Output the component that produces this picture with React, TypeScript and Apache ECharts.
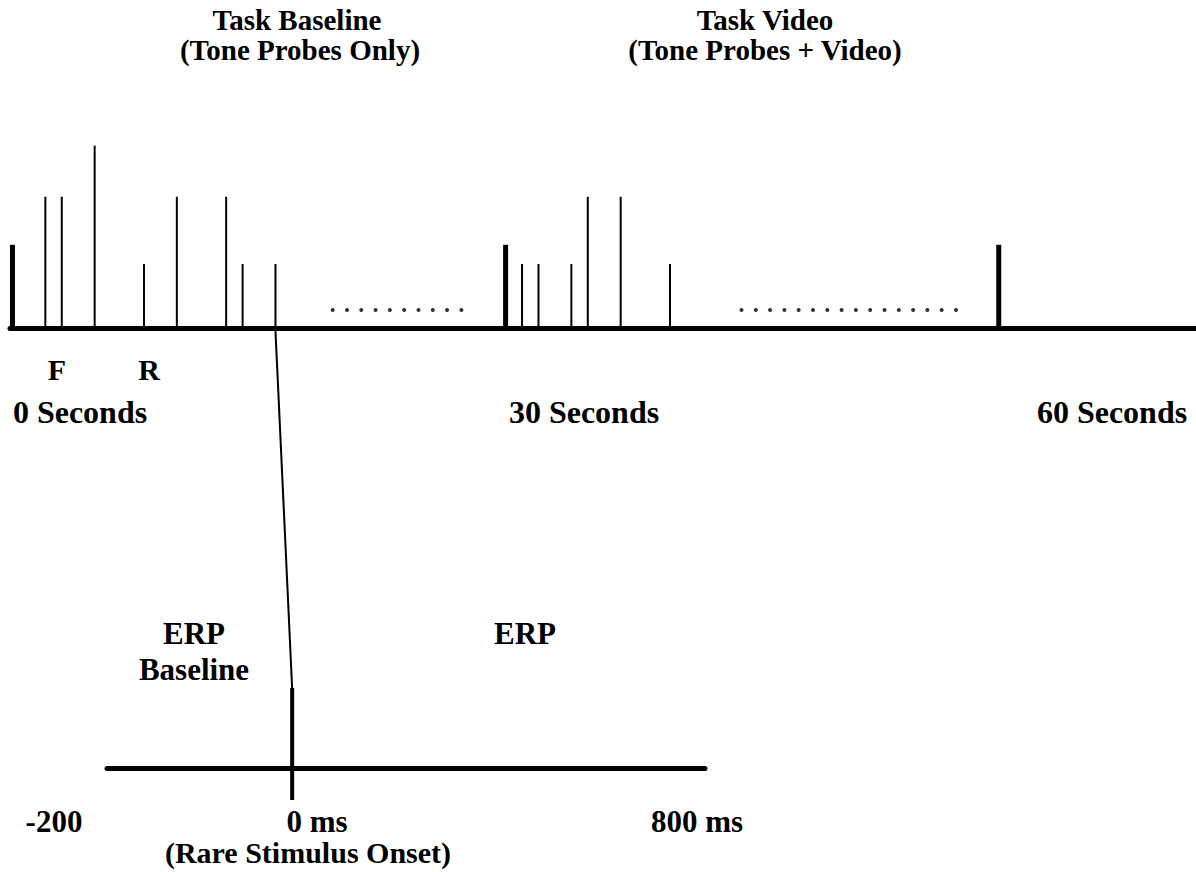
import React, { useEffect, useRef } from "react";
import * as echarts from "echarts";

// ---- data (time in seconds on the task timeline, ms on the ERP epoch) ----
const TASK_MARKERS_S = [0, 30, 60];
const MARKER_HEIGHT = 1.3;
const BASELINE_PROBE_TIMES_S = [2, 3, 5, 8, 10, 13, 14, 16];
const BASELINE_PROBE_HEIGHTS = [2.05, 2.05, 2.85, 1, 2.05, 2.05, 1, 1];
const VIDEO_PROBE_TIMES_S = [31, 32, 34, 35, 37, 40];
const VIDEO_PROBE_HEIGHTS = [1, 1, 1, 2.05, 2.05, 1];
const ELLIPSIS_1_S = [19.48, 20.35, 21.22, 22.09, 22.96, 23.83, 24.7, 25.57, 26.44, 27.31];
const ELLIPSIS_2_S = [
  44.35, 45.22, 46.09, 46.96, 47.83, 48.7, 49.57, 50.44, 51.31, 52.18, 53.05, 53.92, 54.79,
  55.66, 56.53, 57.4,
];
const ELLIPSIS_LEVEL = 0.28;
const LINKED_PROBE_S = 16;
const TIMELINE_RANGE_S = [-0.15, 72];
const ERP_RANGE_MS = [-200, 446];
const ERP_ONSET_MS = 0;
const ERP_MARKER_RANGE = [-1, 2.5];

const TITLES = ["Task Baseline", "(Tone Probes Only)", "Task Video", "(Tone Probes + Video)"];
const PROBE_TYPE_LABELS = ["F", "R"];
const SECONDS_LABELS = ["0 Seconds", "30 Seconds", "60 Seconds"];
const ERP_SEGMENT_LABELS = ["ERP", "Baseline", "ERP"];
const ERP_TICK_LABELS = ["-200", "0 ms", "800 ms"];
const ONSET_LABEL = "(Rare Stimulus Onset)";

const FONT = "Liberation Serif";

function stemSeries(
  times: number[],
  heights: number[],
  width: number,
  axis: number,
  base: number = 0
) {
  return {
    type: "custom",
    xAxisIndex: axis,
    yAxisIndex: axis,
    silent: true,
    clip: false,
    data: times.map((t, i) => [t, heights[i]]),
    renderItem: (_p: any, api: any) => {
      const p0 = api.coord([api.value(0), base]);
      const p1 = api.coord([api.value(0), api.value(1)]);
      return {
        type: "line",
        shape: { x1: p0[0], y1: p0[1], x2: p1[0], y2: p1[1] },
        style: { stroke: "#000", lineWidth: width, lineCap: "butt" },
      };
    },
  };
}

function txt(text: string, x: number, y: number, size = 31) {
  return {
    type: "text",
    x,
    y,
    silent: true,
    style: {
      text,
      fill: "#000",
      fontFamily: FONT,
      fontWeight: "bold",
      fontSize: size,
      align: "center",
      verticalAlign: "middle",
    },
  };
}

export default function App() {
  const ref = useRef<HTMLDivElement>(null);

  useEffect(() => {
    document.body.style.margin = "0";
    const chart = echarts.init(ref.current!, null, { renderer: "svg" });
    const hiddenAxis = {
      axisTick: { show: false },
      axisLabel: { show: false },
      splitLine: { show: false },
    };
    chart.setOption({
      animation: false,
      backgroundColor: "#fff",
      grid: [
        { left: 10, right: 0, top: 136, height: 192 },
        { left: 107, right: 491, top: 688, height: 112 },
      ],
      xAxis: [
        {
          gridIndex: 0,
          type: "value",
          min: TIMELINE_RANGE_S[0],
          max: TIMELINE_RANGE_S[1],
          axisLine: { show: true, onZero: false, lineStyle: { color: "#000", width: 5 } },
          ...hiddenAxis,
        },
        {
          gridIndex: 1,
          type: "value",
          min: ERP_RANGE_MS[0],
          max: ERP_RANGE_MS[1],
          axisLine: { show: true, onZero: true, lineStyle: { color: "#000", width: 5 } },
          ...hiddenAxis,
        },
      ],
      yAxis: [
        { gridIndex: 0, type: "value", min: 0, max: 3, show: false },
        { gridIndex: 1, type: "value", min: ERP_MARKER_RANGE[0], max: ERP_MARKER_RANGE[1], show: false },
      ],
      series: [
        stemSeries(TASK_MARKERS_S, TASK_MARKERS_S.map(() => MARKER_HEIGHT), 5, 0),
        stemSeries(BASELINE_PROBE_TIMES_S, BASELINE_PROBE_HEIGHTS, 2, 0),
        stemSeries(VIDEO_PROBE_TIMES_S, VIDEO_PROBE_HEIGHTS, 2, 0),
        {
          type: "scatter",
          xAxisIndex: 0,
          yAxisIndex: 0,
          silent: true,
          symbol: "circle",
          symbolSize: 4,
          itemStyle: { color: "#000" },
          data: [...ELLIPSIS_1_S, ...ELLIPSIS_2_S].map((t) => [t, ELLIPSIS_LEVEL]),
        },
        stemSeries([ERP_ONSET_MS], [ERP_MARKER_RANGE[1]], 4, 1, ERP_MARKER_RANGE[0]),
      ],
    });

    const from = chart.convertToPixel({ xAxisIndex: 0, yAxisIndex: 0 }, [LINKED_PROBE_S, 0]) as number[];
    const to = chart.convertToPixel({ xAxisIndex: 1, yAxisIndex: 1 }, [
      ERP_ONSET_MS,
      ERP_MARKER_RANGE[1],
    ]) as number[];

    chart.setOption({
      graphic: [
        {
          type: "line",
          silent: true,
          shape: { x1: from[0], y1: from[1] + 3, x2: to[0], y2: to[1] },
          style: { stroke: "#000", lineWidth: 2 },
        },
        txt(TITLES[0], 297, 20, 29),
        txt(TITLES[1], 300, 50, 29),
        txt(TITLES[2], 765, 20, 29),
        txt(TITLES[3], 765, 50, 29),
        txt(PROBE_TYPE_LABELS[0], 57, 369, 30),
        txt(PROBE_TYPE_LABELS[1], 149, 369, 30),
        txt(SECONDS_LABELS[0], 80, 412, 32),
        txt(SECONDS_LABELS[1], 584, 412, 32),
        txt(SECONDS_LABELS[2], 1112, 412, 32),
        txt(ERP_SEGMENT_LABELS[0], 194, 633),
        txt(ERP_SEGMENT_LABELS[1], 194, 669),
        txt(ERP_SEGMENT_LABELS[2], 525, 633),
        txt(ERP_TICK_LABELS[0], 54, 821),
        txt(ERP_TICK_LABELS[1], 317, 821),
        txt(ERP_TICK_LABELS[2], 697, 821),
        txt(ONSET_LABEL, 308, 852, 30),
      ],
    });

    return () => chart.dispose();
  }, []);

  return (
    <div
      ref={ref}
      style={{ position: "absolute", left: 0, top: 0, width: 1196, height: 872 }}
    />
  );
}
